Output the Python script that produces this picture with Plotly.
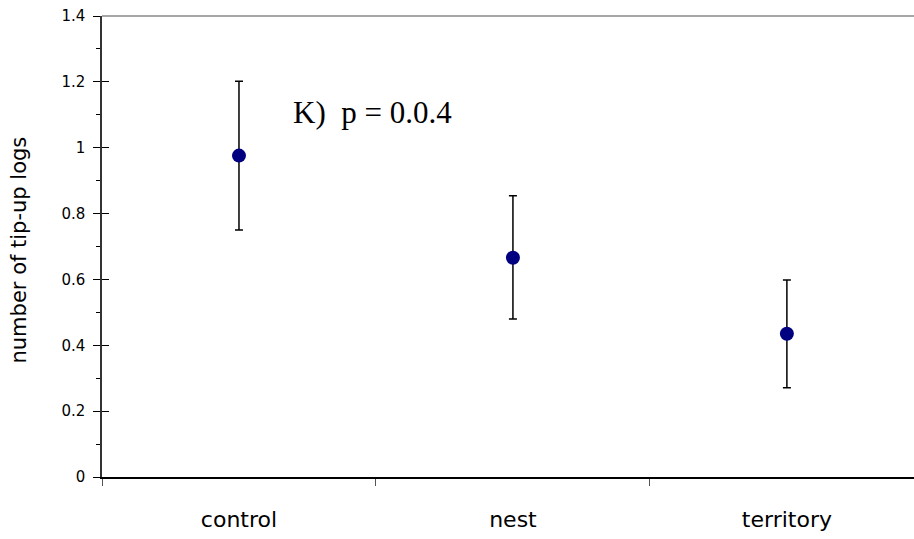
import plotly.graph_objects as go

# Mean number of tip-up logs per treatment, with error bar half-widths
categories = ["control", "nest", "territory"]
means = [0.976, 0.666, 0.435]
err_up = [0.226, 0.188, 0.163]
err_down = [0.226, 0.186, 0.164]

y_ticks = [0, 0.2, 0.4, 0.6, 0.8, 1, 1.2, 1.4]
y_tick_text = ["0", "0.2", "0.4", "0.6", "0.8", "1", "1.2", "1.4"]

SANS = "DejaVu Sans, Arial, sans-serif"

fig = go.Figure()

fig.add_trace(go.Scatter(
    x=categories,
    y=means,
    mode="markers",
    marker=dict(color="#000080", size=14, line=dict(width=0)),
    error_y=dict(
        type="data",
        symmetric=False,
        array=err_up,
        arrayminus=err_down,
        color="#000000",
        thickness=1.5,
        width=4,
    ),
    showlegend=False,
    hoverinfo="skip",
))

# invisible trace on a twin axis so the major y ticks cross the axis line
fig.add_trace(go.Scatter(x=[categories[0]], y=[0], yaxis="y2", mode="markers",
                         marker=dict(opacity=0), showlegend=False, hoverinfo="skip"))

fig.update_layout(
    width=914,
    height=539,
    margin=dict(l=102, r=0, t=16, b=62),
    paper_bgcolor="white",
    plot_bgcolor="white",
    font=dict(family=SANS, color="#000000"),
    xaxis=dict(
        type="category",
        categoryorder="array",
        categoryarray=categories,
        range=[-0.5, 2.464],
        tickson="boundaries",
        ticks="outside",
        ticklen=7,
        tickwidth=1,
        tickcolor="#555555",
        showline=True,
        linecolor="#000000",
        linewidth=1.5,
        showgrid=False,
        zeroline=False,
        tickfont=dict(family=SANS, size=22),
        ticklabelstandoff=22,
    ),
    yaxis=dict(
        range=[0, 1.4],
        tickmode="array",
        tickvals=y_ticks,
        ticktext=y_tick_text,
        ticks="outside",
        ticklen=7,
        tickwidth=1,
        tickcolor="#000000",
        minor=dict(ticks="outside", ticklen=4, dtick=0.1, tick0=0,
                   tickcolor="#000000", showgrid=False),
        showline=True,
        linecolor="#333333",
        linewidth=1.5,
        showgrid=False,
        zeroline=False,
        tickfont=dict(family=SANS, size=15),
        ticklabelstandoff=5,
    ),
    yaxis2=dict(
        overlaying="y",
        side="left",
        range=[0, 1.4],
        tickmode="array",
        tickvals=y_ticks,
        ticks="inside",
        ticklen=7,
        tickwidth=1,
        tickcolor="#000000",
        showticklabels=False,
        showline=False,
        showgrid=False,
        zeroline=False,
    ),
)

# top border of the plotting area
fig.add_shape(type="line", xref="paper", yref="paper", x0=0, x1=1, y0=1, y1=1,
              line=dict(color="#888888", width=1.5))

# y-axis title
fig.add_annotation(
    x=0, y=0.5, xref="paper", yref="paper",
    xshift=-84, yshift=-4,
    text="number of tip-up logs",
    textangle=-90,
    showarrow=False,
    xanchor="center",
    yanchor="middle",
    font=dict(family=SANS, size=21, color="#000000"),
)

fig.add_annotation(
    x=0.19, y=1.108, xref="x", yref="y",
    text="K)  p = 0.0.4",
    showarrow=False,
    xanchor="left",
    yanchor="middle",
    font=dict(family="Liberation Serif, Times New Roman, serif", size=31, color="#000000"),
)

fig.write_html("out.html")
